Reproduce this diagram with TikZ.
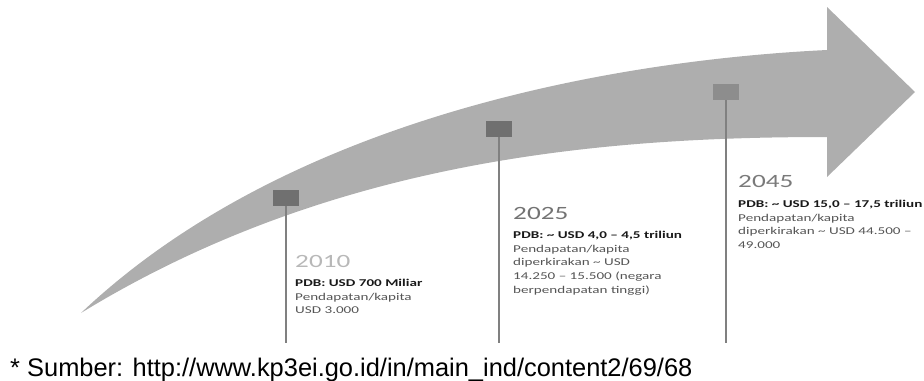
\documentclass[tikz,border=0pt]{standalone}
\usepackage{fontspec}
\setmainfont{Carlito}[FakeStretch=1.45]
\newfontfamily\srcfont{Liberation Sans}
\definecolor{arrowgray}{RGB}{174,174,174}
\definecolor{boxgray}{RGB}{112,112,112}
\definecolor{stemgray}{RGB}{128,128,128}
\definecolor{infogray}{RGB}{85,85,85}
\begin{document}
\begin{tikzpicture}[x=0.3mm,y=-0.3mm,
	box/.style={rectangle,fill=boxgray,minimum width=7.8mm,minimum height=4.8mm,inner sep=0},
	stem/.style={draw=stemgray,line width=0.6mm},
	yr/.style={anchor=base west,inner sep=0,font=\fontsize{16}{19}\selectfont},
	info/.style={anchor=north west,inner sep=0,align=left,text=infogray,font=\fontsize{8.9}{11.7}\selectfont}]
	\useasboundingbox (0,0) rectangle (924,380);
	\fill[arrowgray] (81,313) .. controls (290,115) and (620,60) .. (827,50) -- (827,7) -- (915,92) -- (827,177) -- (827,137) .. controls (600,137) and (331,160) .. (81,313) -- cycle;
	
	\node[box](sqA) at (286,198){};
	\node[box](sqB) at (499,129){};
	\node[box,fill=boxgray!80](sqC) at (726,92){};
	\draw[stem] (sqA.south)--(286,343)node[coordinate](footA){};
	\draw[stem] (sqB.south)--(499,343)node[coordinate](footB){};
	\draw[stem] (sqC.south)--(726,343)node[coordinate](footC){};
	
	\node[yr,text=black!28](yrA) at (295,267){2010};
	\node[info](infoA) at (295,279){\textbf{\color{black!90}PDB: USD 700 Miliar}\\Pendapatan/kapita\\USD 3.000};
	\node[yr,text=black!55](yrB) at (513,219){2025};
	\node[info](infoB) at (513,231){\textbf{\color{black!90}PDB: \textasciitilde{} USD 4,0 -- 4,5 triliun}\\Pendapatan/kapita\\diperkirakan \textasciitilde{} USD\\14.250 -- 15.500 (negara\\berpendapatan tinggi)};
	\node[yr,text=black!52](yrC) at (738,187){2045};
	\node[info](infoC) at (738,200){\textbf{\color{black!90}PDB: \textasciitilde{} USD 15,0 -- 17,5 triliun}\\Pendapatan/kapita\\diperkirakan \textasciitilde{} USD 44.500 --\\49.000};
	
	\node[anchor=base west,inner sep=0,font=\srcfont\fontsize{21.7}{24}\selectfont](src) at (10,376){* Sumber: http://www.kp3ei.go.id/in/main\_ind/content2/69/68};
\end{tikzpicture}
\end{document}
